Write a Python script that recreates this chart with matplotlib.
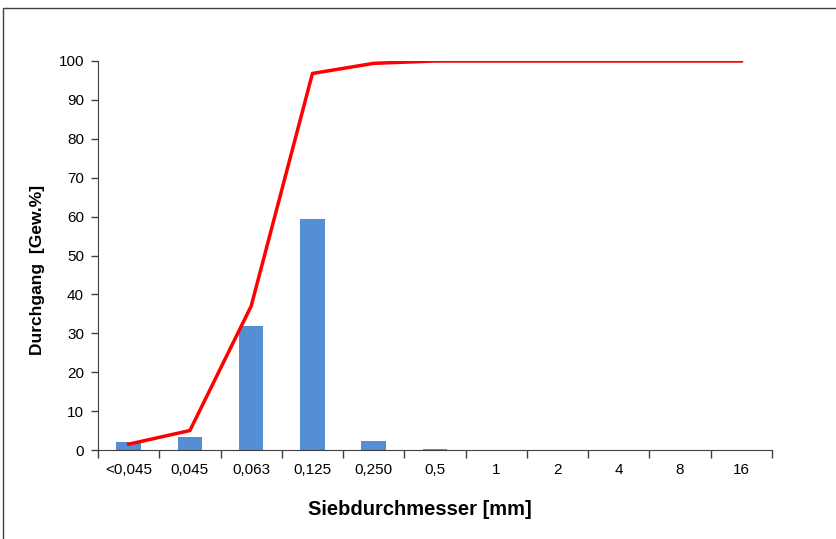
import numpy as np
import matplotlib.pyplot as plt
from matplotlib.patches import Rectangle

plt.rcParams['font.family'] = ['Liberation Sans', 'DejaVu Sans']

labels = ['<0,045', '0,045', '0,063', '0,125', '0,250', '0,5', '1', '2', '4', '8', '16']
bars = [2.0, 3.3, 32.0, 59.5, 2.4, 0.2, 0, 0, 0, 0, 0]
passing = [1.5, 5.0, 37.0, 96.8, 99.4, 100, 100, 100, 100, 100, 100]

x = np.arange(len(labels))

fig = plt.figure(figsize=(8.37, 5.39), dpi=100)
ax = fig.add_axes([98/837, 89/539, 674/837, 389/539])

ax.bar(x, bars, width=0.4, color='#558ED5', zorder=2)
ax.plot(x, passing, color='#FF0000', lw=2.5, zorder=3)

ax.set_xlim(-0.5, len(labels) - 0.5)
ax.set_ylim(0, 100)
ax.set_yticks(np.arange(0, 101, 10))
ax.set_xticks(x)
ax.set_xticklabels(labels)
ax.set_xticks(np.arange(-0.5, len(labels)), minor=True)
ax.tick_params(axis='x', which='major', length=0, pad=9, labelsize=11)
ax.tick_params(axis='x', which='minor', length=6, width=1, color='#404040')
ax.tick_params(axis='y', length=5, width=1, color='#404040', labelsize=11, pad=5)
for s in ['top', 'right']:
    ax.spines[s].set_visible(False)
for s in ['left', 'bottom']:
    ax.spines[s].set_color('#404040')

ax.set_xlabel('Siebdurchmesser [mm]', fontsize=14.5, fontweight='bold')
ax.set_ylabel('Durchgang  [Gew.%]', fontsize=12.5, fontweight='bold')
ax.xaxis.set_label_coords((420 - 98) / 674, -0.128)
ax.yaxis.set_label_coords(-0.079, 0.463)

fig.patches.append(Rectangle((3/837, -0.1), 1.2, 1 - 8/539 + 0.1, transform=fig.transFigure,
                             fill=False, ec='#404040', lw=1))

fig.savefig('out.png', dpi=100)
